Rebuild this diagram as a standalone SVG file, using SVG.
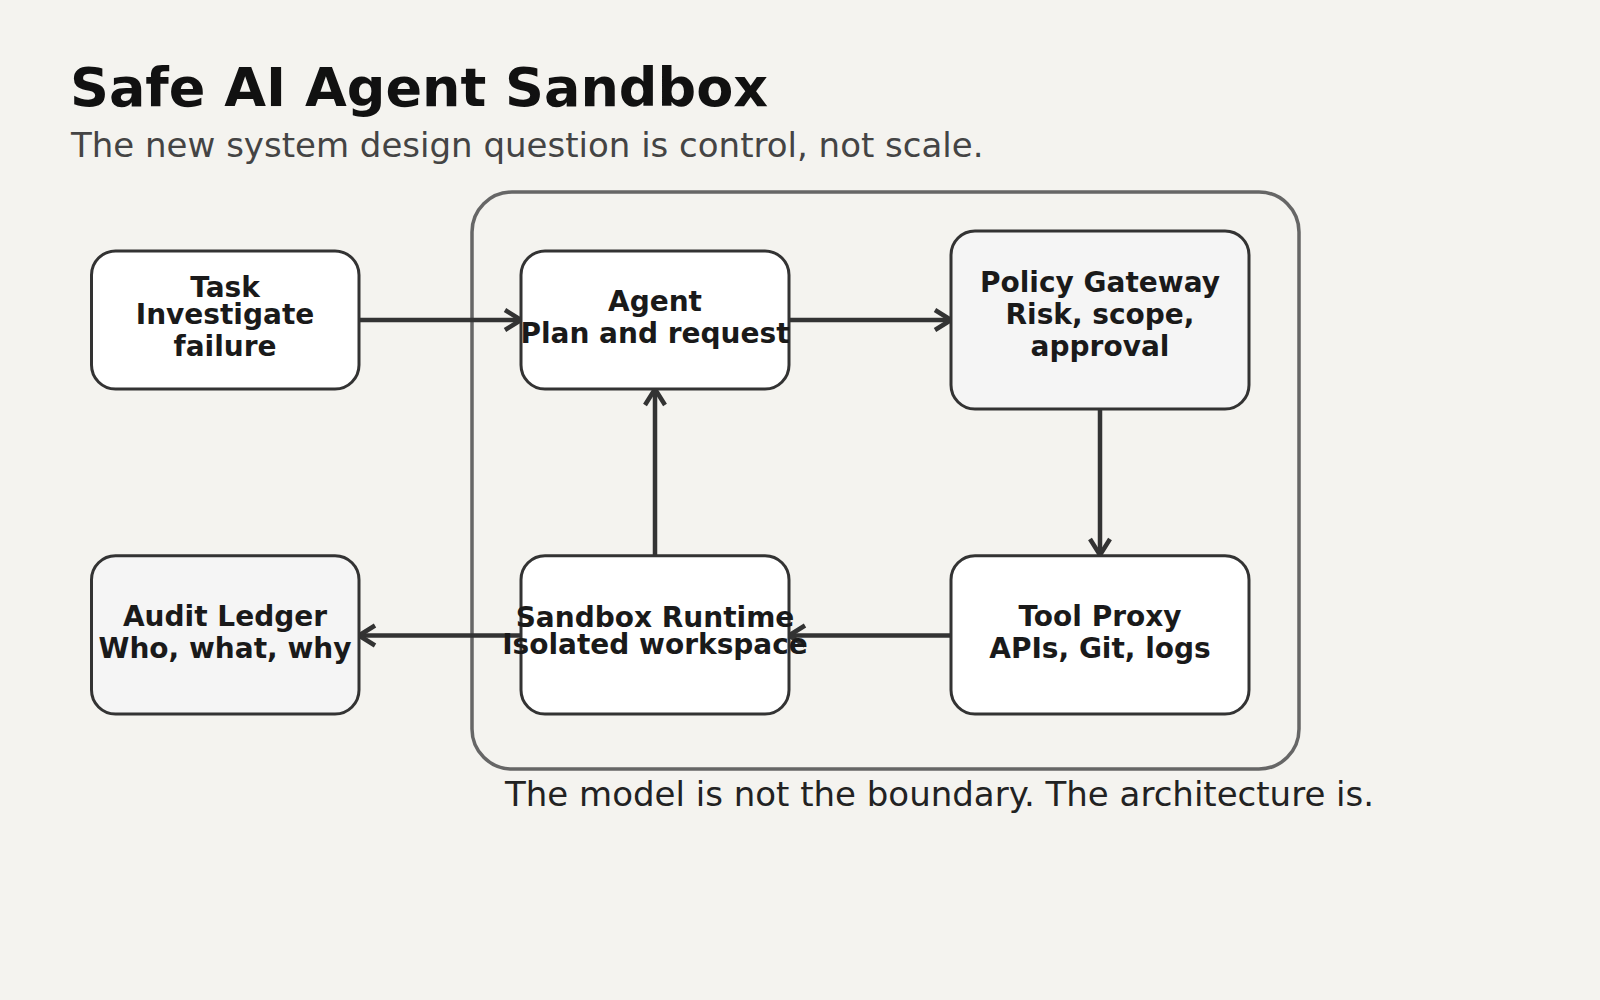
<svg xmlns="http://www.w3.org/2000/svg" width="1600" height="1000" viewBox="0 0 1600 1000">
  <style>
    .node rect { stroke: #333; stroke-width: 3; }
    .white { fill: #ffffff; }
    .grey { fill: #f5f5f5; }
    .label { font-family: "DejaVu Sans", sans-serif; font-weight: bold; font-size: 28px; fill: #1a1a1a; text-anchor: middle; }
    .edge { stroke: #333; stroke-width: 4.5; fill: none; marker-end: url(#arrow); }
  </style>
  <defs>
    <marker id="arrow" viewBox="-20 -14 24 28" markerWidth="24" markerHeight="28" refX="0" refY="0" markerUnits="userSpaceOnUse" orient="auto">
      <path d="M-16,-10 L0,0 L-16,10" fill="none" stroke="#333" stroke-width="4.5"/>
    </marker>
  </defs>
  <rect x="0" y="0" width="1600" height="1000" fill="#f4f3ef"/>
  <text x="70" y="106" font-family="DejaVu Sans, sans-serif" font-weight="bold" font-size="54" fill="#111">Safe AI Agent Sandbox</text>
  <text x="71" y="157" font-family="DejaVu Sans, sans-serif" font-size="34" fill="#444">The new system design question is control, not scale.</text>

  <g id="boundary">
    <rect x="472" y="192" width="827" height="577" rx="40" fill="none" stroke="#666" stroke-width="3.5"/>
  </g>

  <g id="connectors">
    <line class="edge" x1="359" y1="320" x2="521" y2="320"/>
    <line class="edge" x1="789" y1="320" x2="951" y2="320"/>
    <line class="edge" x1="1100" y1="409" x2="1100" y2="555"/>
    <line class="edge" x1="951" y1="635.5" x2="789" y2="635.5"/>
    <line class="edge" x1="521" y1="635.5" x2="359" y2="635.5"/>
    <line class="edge" x1="655" y1="555.7" x2="655" y2="389"/>
  </g>

  <g id="task" class="node">
    <rect class="white" x="91.5" y="251" width="267.5" height="138" rx="24"/>
    <text class="label" x="225" y="297">Task</text>
    <text class="label" x="225" y="324">Investigate</text>
    <text class="label" x="225" y="356">failure</text>
  </g>
  <g id="agent" class="node">
    <rect class="white" x="521" y="251" width="268" height="138" rx="24"/>
    <text class="label" x="655" y="311">Agent</text>
    <text class="label" x="655" y="343">Plan and request</text>
  </g>
  <g id="policy" class="node">
    <rect class="grey" x="951" y="231" width="298" height="178" rx="24"/>
    <text class="label" x="1100" y="292">Policy Gateway</text>
    <text class="label" x="1100" y="324">Risk, scope,</text>
    <text class="label" x="1100" y="356">approval</text>
  </g>
  <g id="audit" class="node">
    <rect class="grey" x="91.5" y="555.7" width="267.5" height="158.3" rx="24"/>
    <text class="label" x="225" y="626">Audit Ledger</text>
    <text class="label" x="225" y="658">Who, what, why</text>
  </g>
  <g id="sandbox" class="node">
    <rect class="white" x="521" y="555.7" width="268" height="158.3" rx="24"/>
    <text class="label" x="655" y="627">Sandbox Runtime</text>
    <text class="label" x="655" y="654">Isolated workspace</text>
  </g>
  <g id="tool" class="node">
    <rect class="white" x="951" y="555.7" width="298" height="158.3" rx="24"/>
    <text class="label" x="1100" y="626">Tool Proxy</text>
    <text class="label" x="1100" y="658">APIs, Git, logs</text>
  </g>

  <text x="505" y="806" font-family="DejaVu Sans, sans-serif" font-size="34" fill="#222">The model is not the boundary. The architecture is.</text>
</svg>
